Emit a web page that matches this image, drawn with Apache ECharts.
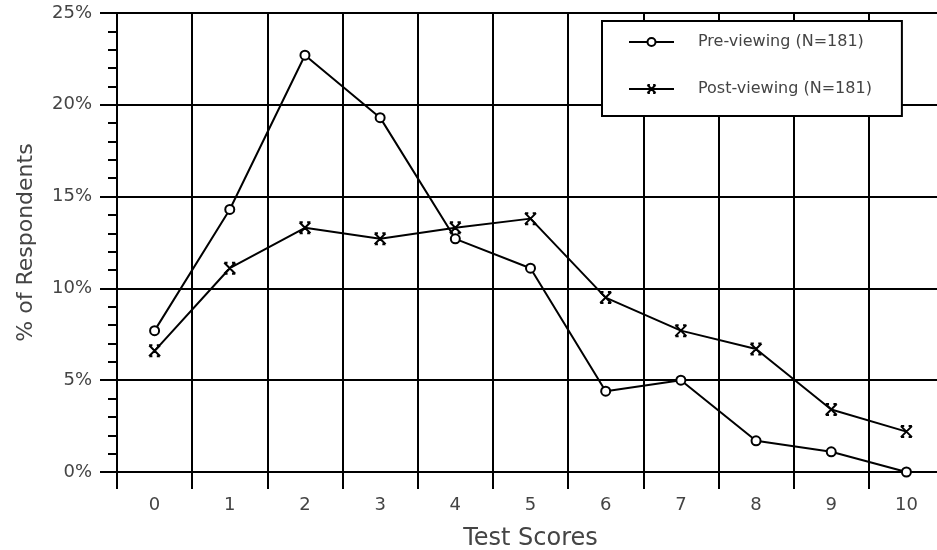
<!DOCTYPE html>
<html>
<head>
<meta charset="utf-8">
<script src="https://cdn.jsdelivr.net/npm/echarts@6/dist/echarts.min.js"></script>
<style>
  html, body { margin: 0; padding: 0; background: #fff; }
  #chart { width: 937px; height: 550px; }
</style>
</head>
<body>
<div id="chart"></div>
<script>
  // test scores 0..10
  var scores = ['0', '1', '2', '3', '4', '5', '6', '7', '8', '9', '10'];
  // % of respondents
  var preViewing = [7.7, 14.3, 22.7, 19.3, 12.7, 11.1, 4.4, 5.0, 1.7, 1.1, 0.0];
  var postViewing = [6.6, 11.1, 13.3, 12.7, 13.3, 13.8, 9.5, 7.7, 6.7, 3.4, 2.2];
  var yTicks = [0, 5, 10, 15, 20, 25];

  var crossMark = 'path://M0,0L10,10M10,0L0,10M0,0L3,0M7,0L10,0M0,10L3,10M7,10L10,10';
  var labelFont = 'DejaVu Sans, sans-serif';
  var textGray = '#444';

  var chart = echarts.init(document.getElementById('chart'), null, { renderer: 'canvas' });

  chart.setOption({
    animation: false,
    backgroundColor: '#fff',
    grid: { left: 117, top: 13, right: -7, bottom: 78, outerBoundsMode: 'none', containLabel: false },
    legend: {
      left: 602,
      top: 21,
      orient: 'vertical',
      backgroundColor: '#fff',
      borderColor: '#000',
      borderWidth: 2,
      borderRadius: 0,
      padding: [13, 30, 19, 26],
      itemGap: 31,
      itemWidth: 45,
      itemHeight: 10,
      textStyle: { fontFamily: labelFont, fontSize: 16, color: textGray, padding: [0, 0, 0, 19] },
      data: ['Pre-viewing (N=181)', 'Post-viewing (N=181)']
    },
    xAxis: {
      type: 'category',
      data: scores,
      boundaryGap: true,
      name: 'Test Scores',
      nameLocation: 'middle',
      nameGap: 55,
      nameTextStyle: { fontFamily: labelFont, fontSize: 24, color: textGray },
      axisLine: { lineStyle: { color: '#000', width: 2 } },
      axisTick: { show: true, length: 17, lineStyle: { color: '#000', width: 2 } },
      axisLabel: { margin: 24, fontFamily: labelFont, fontSize: 18, color: textGray },
      splitLine: { show: true, lineStyle: { color: '#000', width: 2 } }
    },
    yAxis: {
      type: 'value',
      min: yTicks[0],
      max: yTicks[yTicks.length - 1],
      interval: 5,
      name: '% of Respondents',
      nameLocation: 'middle',
      nameGap: 80,
      nameTextStyle: { fontFamily: labelFont, fontSize: 22, color: textGray },
      axisLine: { show: true, lineStyle: { color: '#000', width: 2 } },
      axisTick: { show: true, length: 17, lineStyle: { color: '#000', width: 2 } },
      minorTick: { show: true, splitNumber: 5, length: 9, lineStyle: { color: '#000', width: 2 } },
      axisLabel: { margin: 25, fontFamily: labelFont, fontSize: 18, color: textGray, formatter: '{value}%' },
      splitLine: { show: true, lineStyle: { color: '#000', width: 2 } }
    },
    series: [
      {
        name: 'Pre-viewing (N=181)',
        type: 'line',
        data: preViewing,
        symbol: 'circle',
        symbolSize: 9,
        showAllSymbol: true,
        lineStyle: { color: '#000', width: 2 },
        itemStyle: { color: '#fff', borderColor: '#000', borderWidth: 2 },
        z: 3
      },
      {
        name: 'Post-viewing (N=181)',
        type: 'line',
        data: postViewing,
        symbol: crossMark,
        symbolSize: 11,
        showAllSymbol: true,
        lineStyle: { color: '#000', width: 2 },
        itemStyle: { color: '#000', borderColor: '#000', borderWidth: 2 },
        z: 3
      }
    ]
  });
</script>
</body>
</html>
